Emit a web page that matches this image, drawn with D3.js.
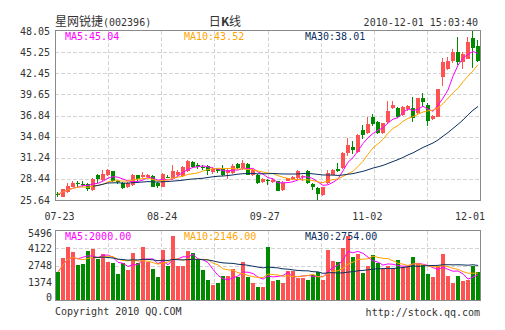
<!DOCTYPE html>
<html><head><meta charset="utf-8">
<script src="https://cdn.jsdelivr.net/npm/d3@7"></script>
<style>body{margin:0;background:#fff}svg{display:block}</style>
</head><body><svg id="c" width="505" height="330"></svg>
<script>
const opens  = [26.45,26.1,26.7,27.4,27.85,27.8,27.8,26.95,29.0,28.3,28.95,29.5,28.15,27.9,27.4,27.65,28.95,28.65,28.65,28.8,27.85,27.4,
  28.75,28.6,28.96,28.85,29.55,30.7,30.25,30.0,30.2,29.35,29.75,29.7,29.2,29.2,30.4,29.85,30.4,28.96,28.96,28.07,28.3,
  28.05,28.1,26.97,28.2,28.45,28.5,28.75,29.5,27.75,27.2,26.3,27.85,
  29.0,29.75,29.9,31.85,32.7,32.05,34.9,34.57,36.7,36.0,34.5,36.0,37.9,37.9,36.9,37.7,37.88,37.15,39.2,38.25,
  36.35,36.7,42.0,43.0,44.1,45.2,44.0,44.4,47.1,46.0];
const highs  = [26.7,27.1,27.85,28.15,28.1,28.1,27.9,28.55,29.05,29.6,29.8,29.55,28.3,28.05,28.0,29.1,29.0,29.3,29.15,29.0,28.0,29.2,
  29.0,30.3,29.6,30.1,30.95,30.8,30.6,30.3,30.3,29.95,29.9,30.25,29.7,30.4,30.5,30.95,30.5,29.7,29.1,28.5,28.4,
  28.4,28.2,28.1,28.6,28.8,29.6,29.0,29.6,27.9,27.3,27.4,29.6,
  29.8,30.55,32.0,33.9,33.4,34.35,35.6,36.6,37.1,36.1,35.9,38.8,38.8,38.0,38.1,38.3,39.35,39.2,39.85,38.45,
  36.95,40.4,44.45,44.65,45.65,47.3,45.3,47.2,48.05,46.8];
const lows   = [26.1,26.0,26.6,27.3,27.4,27.3,26.8,26.85,27.95,28.1,28.8,28.0,27.8,27.1,27.2,27.55,28.2,28.5,28.5,27.3,27.2,27.3,
  28.5,28.5,28.8,28.7,29.4,29.9,29.8,29.6,29.0,29.1,29.2,28.8,28.4,29.1,29.7,29.6,28.9,28.8,27.7,27.95,27.6,
  27.9,26.8,26.8,28.1,28.3,28.4,28.1,27.8,27.0,25.65,26.2,27.8,
  28.9,29.4,29.8,31.5,31.8,31.9,33.7,34.4,35.4,34.4,34.4,35.9,37.7,36.5,36.8,37.5,36.0,37.0,38.0,35.45,
  36.2,36.6,40.75,42.9,43.77,43.55,43.0,44.3,43.15,43.9];
const closes = [26.4,27.05,27.5,27.9,27.8,27.6,27.05,28.45,28.4,29.15,29.6,28.1,28.05,27.2,27.9,28.95,28.4,29.0,29.0,27.4,27.45,29.05,
  28.68,29.5,29.4,30.05,30.8,30.05,29.95,29.95,29.5,29.8,29.5,28.95,29.6,30.2,29.85,30.5,29.0,29.6,27.85,28.4,28.15,
  28.3,26.87,27.93,28.5,28.7,29.5,28.85,27.95,27.4,26.4,27.3,29.25,
  29.6,29.55,31.85,32.95,32.3,34.25,34.3,35.7,35.75,34.5,35.8,37.5,38.25,36.7,38.0,38.1,36.47,39.1,38.68,36.05,
  36.75,40.35,43.9,44.1,45.2,44.0,45.0,46.6,45.8,44.05];
const volumes = [2230,3345,4222,3823,2761,2900,3903,4062,3266,3664,3027,2947,2071,2920,2390,3744,2920,4222,3027,2469,1832,3983,
  2708,5098,2735,2708,3903,3744,3266,2390,1593,1195,1380,1950,1900,2450,1850,3000,1858,1380,1035,1035,4222,
  1513,1593,1380,2310,2310,1779,1779,1593,1991,2230,1593,3983,
  3120,2990,4180,5100,3390,3700,2190,2670,3620,2910,2510,2670,2510,3150,2590,2670,3390,2830,2750,2110,
  1800,2700,3700,1900,1360,1900,1550,1600,2700,2250];
const priceTicks = [25.64,28.44,31.24,34.04,36.84,39.65,42.45,45.25,48.05];
const volumeTicks = [0,1374,2748,4122,5496];
const dateLabels = ["07-23","08-24","09-27","11-02","12-01"];
const priceMALabels = ["MA5:45.04","MA10:43.52","MA30:38.01"];
const volumeMALabels = ["MA5:2000.00","MA10:2146.00","MA30:2754.00"];
const maPeriods = [5,10,30];
const maStarts = [0,0,7];
const maColors = ["#ff00ff","#ffa500","#0c3060"];

const svg = d3.select("#c");
const mono = "'DejaVu Sans Mono', monospace";
const cjk = "'Noto Sans CJK SC', sans-serif";
const UP = "#ff5252", DOWN = "#008a00", GRID = "#d4d4d4", BORDER = "#8a8a8a", TXT = "#333";
const L = 55, R = 480;
const n = closes.length;
const x = d3.scaleBand().domain(d3.range(n)).range([56, 480]).paddingInner(0.2).paddingOuter(0);
const xc = i => x(i) + 2;
const yp = d3.scaleLinear().domain([25.64, 48.05]).range([200, 31]);
const yv = d3.scaleLinear().domain([0, 5496]).range([300, 231]);
const gx = d3.scaleLinear().domain([0, 8]).range([L, R]);
const xd = d3.scalePoint().domain(dateLabels).range([59.5, 470]);

function ma(arr, p, start) {
  return arr.map((v, i) => {
    if (i < start) return null;
    const s = arr.slice(Math.max(0, i - p + 1), i + 1);
    return d3.mean(s);
  });
}
const up = i => closes[i] >= opens[i];

// grids
function grid(yTop, yBot, ys) {
  const g = svg.append("g").attr("stroke", GRID).attr("stroke-dasharray", "4,2").attr("stroke-width", 1);
  d3.range(1, 8).forEach(k => {
    const xx = Math.round(gx(k)) + 0.5;
    g.append("line").attr("x1", xx).attr("x2", xx).attr("y1", yTop).attr("y2", yBot);
  });
  ys.forEach(yy => {
    const y0 = Math.round(yy) + 0.5;
    g.append("line").attr("x1", L).attr("x2", R).attr("y1", y0).attr("y2", y0);
  });
}
grid(31, 200, priceTicks.slice(1, -1).map(yp));
grid(231, 300, volumeTicks.slice(1, -1).map(yv));

// candles
const cg = svg.append("g").attr("shape-rendering", "crispEdges");
d3.range(n).forEach(i => {
  const col = up(i) ? UP : DOWN;
  const bx = x(i);
  const yh = Math.round(yp(highs[i])), yl = Math.round(yp(lows[i]));
  cg.append("rect").attr("x", bx + 1).attr("width", 1).attr("y", yh).attr("height", Math.max(1, yl - yh)).attr("fill", col);
  const t = Math.round(yp(Math.max(opens[i], closes[i])));
  const b = Math.round(yp(Math.min(opens[i], closes[i])));
  cg.append("rect").attr("x", bx).attr("width", x.bandwidth()).attr("y", t).attr("height", Math.max(1, b - t)).attr("fill", col);
});

// volume bars
const vg = svg.append("g").attr("shape-rendering", "crispEdges");
vg.selectAll("rect").data(volumes).join("rect")
  .attr("x", (d, i) => x(i)).attr("width", x.bandwidth())
  .attr("y", d => Math.round(yv(d))).attr("height", d => 300 - Math.round(yv(d)))
  .attr("fill", (d, i) => up(i) ? UP : DOWN);

// MA lines
function drawMA(arr, yScale) {
  maPeriods.forEach((p, k) => {
    const m = ma(arr, p, maStarts[k]);
    const line = d3.line().defined(d => d != null).x((d, i) => xc(i)).y(d => yScale(d));
    svg.append("path").datum(m).attr("d", line).attr("fill", "none")
      .attr("stroke", maColors[k]).attr("stroke-width", 1);
  });
}
drawMA(closes, yp);
drawMA(volumes, yv);

// borders
svg.append("rect").attr("x", 55.5).attr("y", 30.5).attr("width", 425).attr("height", 170)
  .attr("fill", "none").attr("stroke", BORDER);
svg.append("rect").attr("x", 55.5).attr("y", 230.5).attr("width", 425).attr("height", 70)
  .attr("fill", "none").attr("stroke", BORDER);

// axis labels
svg.append("g").selectAll("text").data(priceTicks).join("text")
  .attr("x", 50).attr("y", d => yp(d)).attr("dy", "0.36em").attr("text-anchor", "end")
  .attr("font-family", mono).attr("font-size", 10).attr("fill", TXT).text(d => d.toFixed(2));
svg.append("g").selectAll("text").data(volumeTicks).join("text")
  .attr("x", 52).attr("y", d => Math.min(297, Math.max(233.5, yv(d)))).attr("dy", "0.36em").attr("text-anchor", "end")
  .attr("font-family", mono).attr("font-size", 10).attr("fill", TXT).text(d => d);
svg.append("g").selectAll("text").data(dateLabels).join("text")
  .attr("x", d => xd(d)).attr("y", 220.3).attr("text-anchor", "middle")
  .attr("font-family", mono).attr("font-size", 10).attr("fill", TXT).text(d => d);

// MA labels
const maX = [65, 184, 305];
priceMALabels.forEach((t, k) => svg.append("text").attr("x", maX[k]).attr("y", 40.3)
  .attr("font-family", mono).attr("font-size", 10).attr("fill", maColors[k]).text(t));
volumeMALabels.forEach((t, k) => svg.append("text").attr("x", maX[k]).attr("y", 240)
  .attr("font-family", mono).attr("font-size", 10).attr("fill", maColors[k]).text(t));

// header
const h = svg.append("text").attr("x", 55).attr("y", 26).attr("fill", TXT);
h.append("tspan").attr("font-family", cjk).attr("font-size", 12).text("星网锐捷");
h.append("tspan").attr("font-family", mono).attr("font-size", 10).text("(002396)");
const k = svg.append("text").attr("x", 225).attr("y", 26).attr("text-anchor", "middle").attr("fill", TXT)
  .attr("font-family", cjk).attr("font-size", 12);
k.append("tspan").text("日");
k.append("tspan").attr("font-weight", "bold").text("K");
k.append("tspan").text("线");
svg.append("text").attr("x", 478).attr("y", 25.5).attr("text-anchor", "end").attr("fill", TXT)
  .attr("font-family", mono).attr("font-size", 10).text("2010-12-01 15:03:40");

// footer
svg.append("text").attr("x", 55).attr("y", 315.3).attr("fill", TXT)
  .attr("font-family", mono).attr("font-size", 10).text("Copyright 2010 QQ.COM");
svg.append("text").attr("x", 480).attr("y", 315.8).attr("text-anchor", "end").attr("fill", TXT)
  .attr("font-family", mono).attr("font-size", 10).text("http://stock.qq.com");
</script></body></html>
